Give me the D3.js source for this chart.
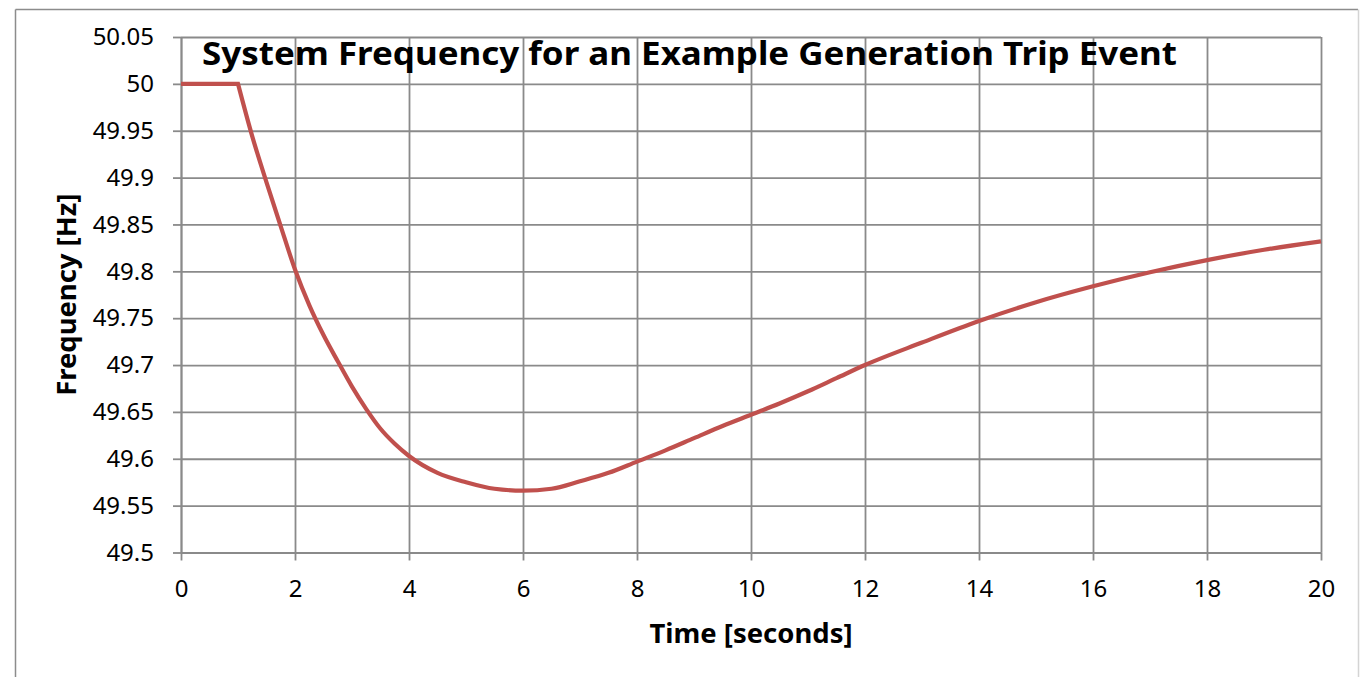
<!DOCTYPE html>
<html>
<head>
<meta charset="utf-8">
<script src="https://cdn.jsdelivr.net/npm/d3@7"></script>
<style>
  html, body { margin: 0; padding: 0; background: #fff; }
  svg { display: block; }
  text { font-family: "Noto Sans", "Open Sans", sans-serif; fill: #000; }
</style>
</head>
<body>
<svg id="chart" width="1360" height="677"></svg>
<script>
// Frequency trace after a generator trip (time in seconds, frequency in Hz)
const timeSeconds = [0, 1, 1.25, 1.5, 1.75, 2, 2.25, 2.5, 2.75, 3, 3.25, 3.5, 3.75, 4,
  4.5, 5, 5.5, 6, 6.5, 7, 7.5, 8, 8.5, 9, 9.5, 10, 10.5, 11, 11.5, 12,
  13, 14, 15, 16, 17, 18, 19, 20];
const frequencyHz = [50, 50, 49.944, 49.895, 49.848, 49.802, 49.764, 49.732, 49.704, 49.677, 49.653, 49.632, 49.616, 49.603,
  49.585, 49.575, 49.568, 49.566, 49.568, 49.576, 49.585, 49.597, 49.609, 49.622, 49.635, 49.647, 49.659, 49.672, 49.686, 49.700,
  49.724, 49.747, 49.767, 49.784, 49.799, 49.812, 49.823, 49.832];
// Index of the trip instant: flat before it, smooth recovery after it
const tripIndex = 1;

const xTickValues = [0, 2, 4, 6, 8, 10, 12, 14, 16, 18, 20];
const yTickValues = [49.5, 49.55, 49.6, 49.65, 49.7, 49.75, 49.8, 49.85, 49.9, 49.95, 50, 50.05];
const yTickLabels = ["49.5", "49.55", "49.6", "49.65", "49.7", "49.75", "49.8", "49.85", "49.9", "49.95", "50", "50.05"];

const chartTitle = "System Frequency for an Example Generation Trip Event";
const xAxisTitle = "Time [seconds]";
const yAxisTitle = "Frequency [Hz]";

const svg = d3.select("#chart");
const plot = { left: 181, right: 1321, top: 37, bottom: 552.5 };
const gridColor = "#8a8a8a";

const x = d3.scaleLinear().domain([0, 20]).range([plot.left, plot.right]);
const y = d3.scaleLinear().domain([49.5, 50.05]).range([plot.bottom, plot.top]);

// Outer chart frame
svg.append("line").attr("x1", 15.5).attr("y1", 9.5).attr("x2", 1358).attr("y2", 9.5)
  .attr("stroke", "#8c8c8c").attr("stroke-width", 1.5);
svg.append("line").attr("x1", 15.5).attr("y1", 9.5).attr("x2", 15.5).attr("y2", 677)
  .attr("stroke", "#8c8c8c").attr("stroke-width", 1.5);
svg.append("line").attr("x1", 1358.5).attr("y1", 9.5).attr("x2", 1358.5).attr("y2", 677)
  .attr("stroke", "#d4d4d4").attr("stroke-width", 1.5);

// Gridlines
svg.append("g")
  .attr("transform", `translate(${plot.left},0)`)
  .call(d3.axisLeft(y).tickValues(yTickValues).tickSize(-(plot.right - plot.left)).tickFormat(""))
  .call(g => g.select(".domain").remove())
  .call(g => g.selectAll("line").attr("stroke", gridColor).attr("stroke-width", 1.8));

svg.append("g")
  .attr("transform", `translate(0,${plot.bottom})`)
  .call(d3.axisBottom(x).tickValues(xTickValues).tickSize(-(plot.bottom - plot.top)).tickFormat(""))
  .call(g => g.select(".domain").remove())
  .call(g => g.selectAll("line").attr("stroke", gridColor).attr("stroke-width", 1.8));

// Axes with outward ticks and labels
const yAxis = svg.append("g")
  .attr("transform", `translate(${plot.left},0)`)
  .call(d3.axisLeft(y).tickValues(yTickValues)
    .tickFormat((d, i) => yTickLabels[i]).tickSize(8).tickSizeOuter(0).tickPadding(19));
yAxis.select(".domain").attr("stroke", gridColor).attr("stroke-width", 1.8);
yAxis.selectAll(".tick line").attr("stroke", gridColor).attr("stroke-width", 1.8);
yAxis.selectAll("text").attr("font-size", 24).style("font-family", '"Noto Sans", sans-serif').attr("fill", "#000");

const xAxis = svg.append("g")
  .attr("transform", `translate(0,${plot.bottom})`)
  .call(d3.axisBottom(x).tickValues(xTickValues).tickSize(8).tickSizeOuter(0).tickPadding(19));
xAxis.select(".domain").attr("stroke", gridColor).attr("stroke-width", 1.8);
xAxis.selectAll(".tick line").attr("stroke", gridColor).attr("stroke-width", 1.8);
xAxis.selectAll("text").attr("font-size", 24).style("font-family", '"Noto Sans", sans-serif').attr("fill", "#000");

// Frequency curve: straight pre-trip segment, then a smooth monotone curve
const points = timeSeconds.map((t, i) => [t, frequencyHz[i]]);
const preTrip = d3.line().x(d => x(d[0])).y(d => y(d[1])).curve(d3.curveLinear)(points.slice(0, tripIndex + 1));
const postTrip = d3.line().x(d => x(d[0])).y(d => y(d[1])).curve(d3.curveMonotoneX)(points.slice(tripIndex));
svg.append("path")
  .attr("fill", "none")
  .attr("stroke", "#c0504d")
  .attr("stroke-width", 4.2)
  .attr("stroke-linejoin", "miter")
  .attr("d", preTrip + postTrip.replace(/^M[^A-Za-z]*/, ""));

// Titles
svg.append("text")
  .attr("x", 202).attr("y", 65)
  .attr("font-size", 33).attr("font-weight", "bold")
  .attr("textLength", 975).attr("lengthAdjust", "spacingAndGlyphs")
  .text(chartTitle);

svg.append("text")
  .attr("x", (plot.left + plot.right) / 2).attr("y", 643)
  .attr("text-anchor", "middle")
  .attr("font-size", 27).attr("font-weight", "bold")
  .attr("textLength", 203).attr("lengthAdjust", "spacingAndGlyphs")
  .text(xAxisTitle);

svg.append("text")
  .attr("transform", `translate(76,${(plot.top + plot.bottom) / 2}) rotate(-90)`)
  .attr("text-anchor", "middle")
  .attr("font-size", 27).attr("font-weight", "bold")
  .attr("textLength", 202).attr("lengthAdjust", "spacingAndGlyphs")
  .text(yAxisTitle);
</script>
</body>
</html>
